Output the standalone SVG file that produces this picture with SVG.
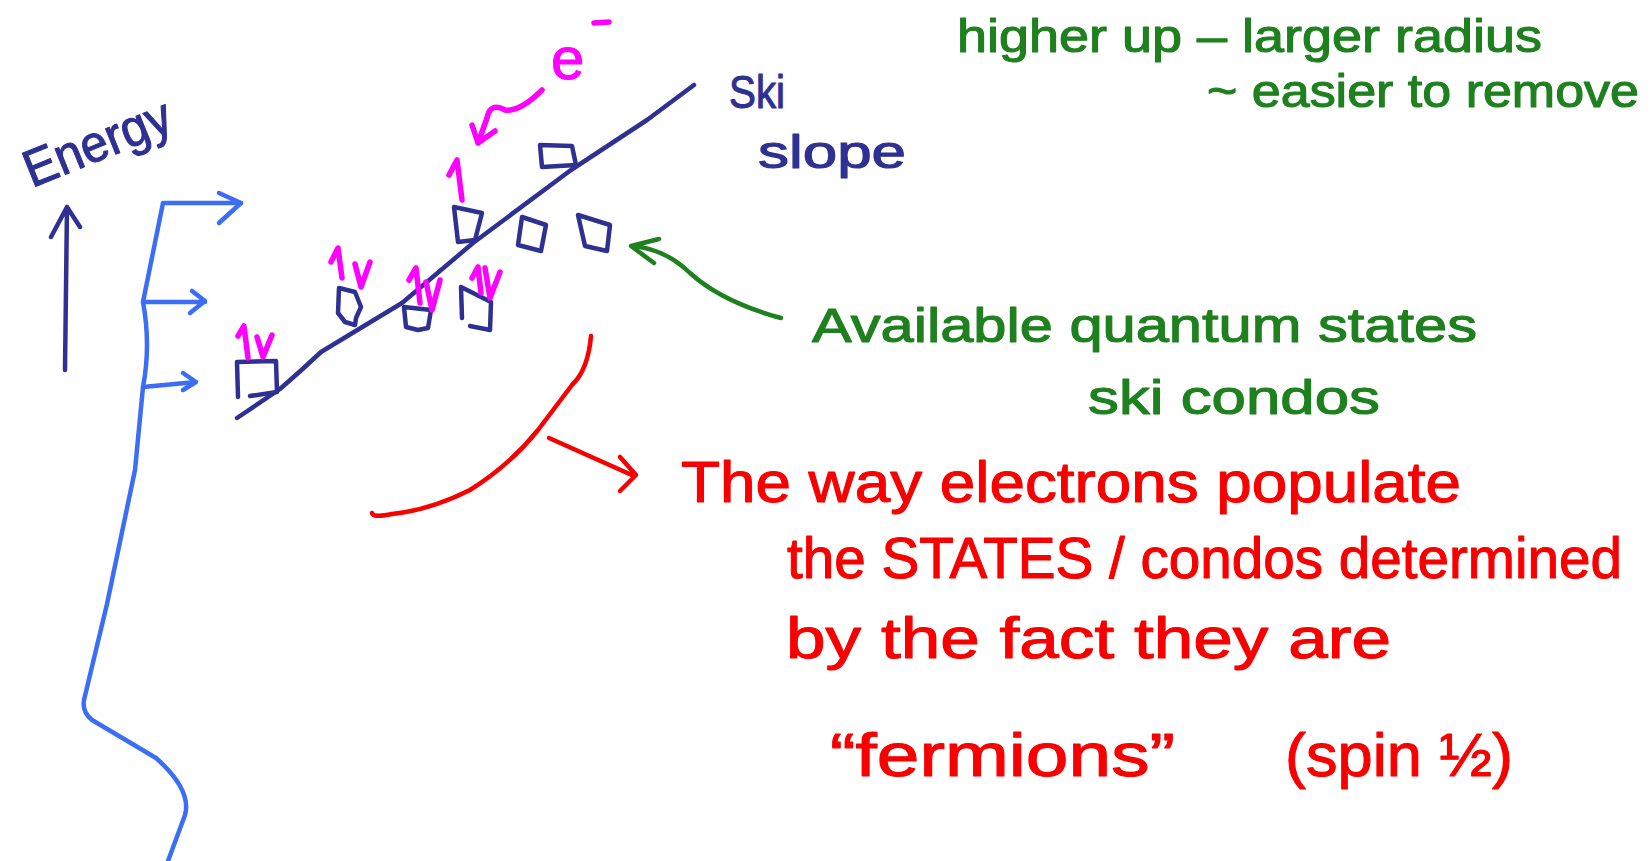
<svg xmlns="http://www.w3.org/2000/svg" width="1649" height="861" viewBox="0 0 1649 861">
<style>
.s{fill:none;stroke-width:4.5;stroke-linecap:round;stroke-linejoin:round}
.navy{stroke:#2E3192}
.blue{stroke:#3B6EF5}
.mag{stroke:#FF00FF;stroke-width:5.5}
.grn{stroke:#1E801E}
.red{stroke:#F80000}
.t{font-family:"Liberation Sans","DejaVu Sans",sans-serif;stroke-width:1.1;stroke-linejoin:round}
.tn{fill:#2E3192;stroke:#2E3192}.tg{fill:#1E801E;stroke:#1E801E}.tr{fill:#F80000;stroke:#F80000}.tm{fill:#FF00FF;stroke:#FF00FF}
</style>
<rect width="1649" height="861" fill="#ffffff"/>

<g id="energy-axis">
<path class="s navy" d="M65,370 L67,207 M51,237 L67,207 L80,227"/>
<text class="t tn" x="32" y="188" font-size="52" textLength="155" lengthAdjust="spacingAndGlyphs" transform="rotate(-22 32 188)">Energy</text>
</g>

<g id="blue-curve">
<path class="s blue" d="M241,203 L163,203 L143,302 Q151,345 143,387 L135,470 L107,604 L84,700 Q82,712 92,720 L156,758 Q192,790 185,815 L168,861"/>
<path class="s blue" d="M219,193 L241,203 L219,223"/>
<path class="s blue" d="M143,302 L205,302 M192,291 L205,301 L190,313"/>
<path class="s blue" d="M143,387 L196,382 M183,373 L196,382 L183,390"/>
</g>

<g id="ski-slope">
<path class="s navy" d="M237,418 L280,389 Q302,370 321,352 L402,303 L473,243 L571,170 L647,120 L694,85"/>
<text class="t tn" x="729" y="108" font-size="46" textLength="56" lengthAdjust="spacingAndGlyphs">Ski</text>
<text class="t tn" x="758" y="168" font-size="46" textLength="148" lengthAdjust="spacingAndGlyphs">slope</text>
</g>

<g id="condos">
<path class="s navy" d="M237,362 L276,361 L277,392 L250,396 M237,362 L238,397"/>
<path class="s navy" d="M339,288 L355,292 L361,307 L356,318 L355,325 L345,322 L338,313 Z"/>
<path class="s navy" d="M404,307 L431,310 L428,328 L418,330 L406,327 Z"/>
<path class="s navy" d="M461,287 L491,302 L490,330 L470,326 M461,287 L462,318"/>
<path class="s navy" d="M454,207 L482,213 L475,240 L458,242 Z"/>
<path class="s navy" d="M522,217 L546,225 L541,251 L518,245 Z"/>
<path class="s navy" d="M578,215 L610,225 L607,251 L585,246 Z"/>
<path class="s navy" d="M540,145 L572,146 L576,165 L542,167 Z"/>
</g>

<g id="spins">
<path class="s mag" d="M238,336 L244,326 L248,358 M257,337 L263,357 L272,335"/>
<path class="s mag" d="M331,262 L338,248 L342,278 M355,264 L361,287 L370,262"/>
<path class="s mag" d="M409,280 L416,268 L420,303 M426,282 L432,310 L440,280"/>
<path class="s mag" d="M472,278 L478,267 L481,293 M485,268 L490,298 L500,272"/>
<path class="s mag" d="M449,175 L457,160 L462,200"/>
</g>

<g id="electron">
<text class="t tm" x="551" y="79" font-size="60">e</text>
<path class="s mag" d="M594,23 L609,22"/>
<path class="s mag" d="M542,90 Q520,112 505,110 Q490,102 487,118 L478,143 M472,125 L478,143 L495,131"/>
</g>

<g id="notes-green">
<text class="t tg" x="957" y="52" font-size="46" textLength="585" lengthAdjust="spacingAndGlyphs">higher up – larger radius</text>
<text class="t tg" x="1207" y="107" font-size="46" textLength="432" lengthAdjust="spacingAndGlyphs">~ easier to remove</text>
<text class="t tg" x="812" y="342" font-size="48" textLength="665" lengthAdjust="spacingAndGlyphs">Available quantum states</text>
<text class="t tg" x="1088" y="414" font-size="48" textLength="292" lengthAdjust="spacingAndGlyphs">ski condos</text>
<path class="s grn" d="M781,318 Q722,302 690,273 Q664,248 631,246 M659,239 L631,246 L654,263"/>
</g>

<g id="notes-red">
<path class="s red" d="M591,336 Q588,370 572,385 L538,430 Q510,465 470,490 Q430,510 392,514 Q373,518 372,513"/>
<path class="s red" d="M549,438 L634,476 M620,457 L636,475 L620,491"/>
<text class="t tr" x="681" y="502" font-size="58" textLength="780" lengthAdjust="spacingAndGlyphs">The way electrons populate</text>
<text class="t tr" x="787" y="578" font-size="58" textLength="835" lengthAdjust="spacingAndGlyphs">the STATES / condos determined</text>
<text class="t tr" x="786" y="658" font-size="58" textLength="605" lengthAdjust="spacingAndGlyphs">by the fact they are</text>
<text class="t tr" x="830" y="776" font-size="62" textLength="345" lengthAdjust="spacingAndGlyphs">“fermions”</text>
<text class="t tr" x="1285" y="776" font-size="62" textLength="228" lengthAdjust="spacingAndGlyphs">(spin ½)</text>
</g>
</svg>
